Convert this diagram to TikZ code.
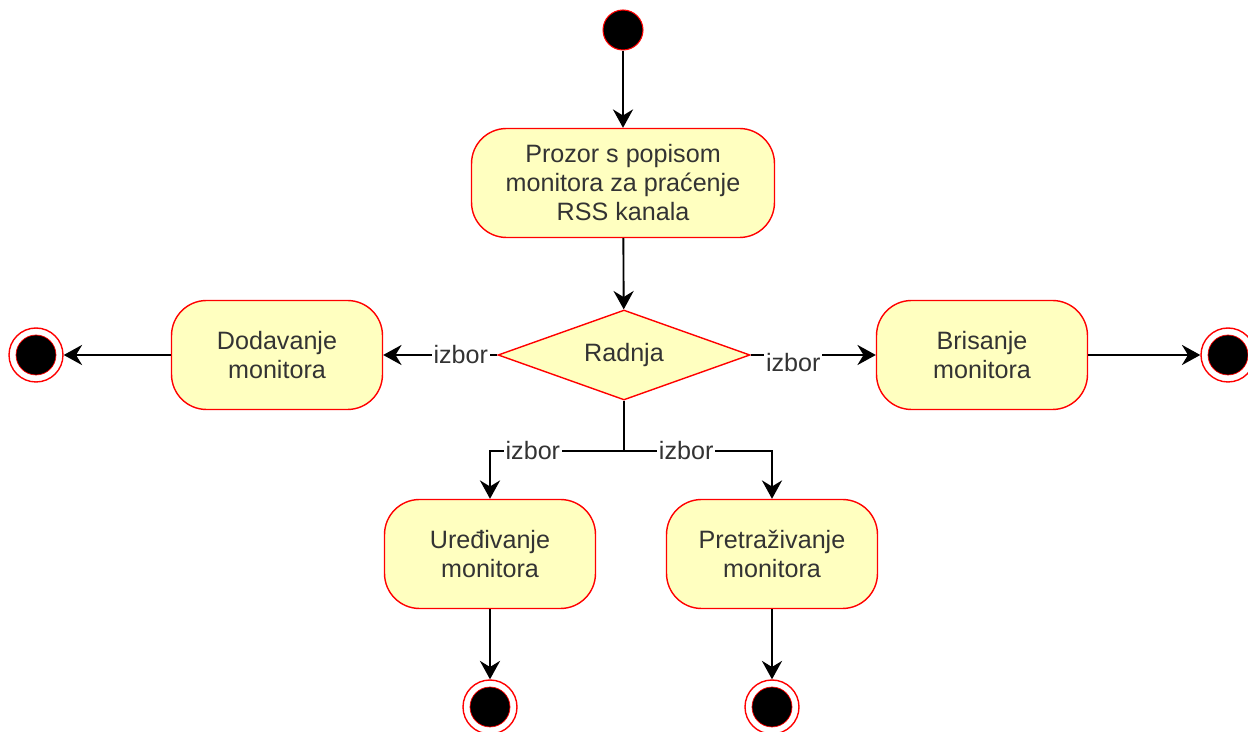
\documentclass[tikz,border=0pt]{standalone}
\usepackage{fontspec}
\setmainfont{Liberation Sans}
\usepackage{tikz}
\usetikzlibrary{arrows.meta}
\usetikzlibrary{shapes.geometric}

\definecolor{boxfill}{HTML}{FFFFC0}
\definecolor{txt}{HTML}{333333}

\tikzset{
  akcija/.style={rectangle, rounded corners=0.7cm, draw=red, fill=boxfill,
    line width=0.8pt, minimum width=4.22cm, minimum height=2.18cm,
    align=center, text=txt, font=\fontsize{14.3}{16.5}\selectfont},
  odluka/.style={diamond, aspect=2.8, draw=red, fill=boxfill, line width=0.8pt,
    minimum width=5.04cm, minimum height=1.8cm, inner sep=0pt,
    text=txt, font=\fontsize{14.3}{16.5}\selectfont},
  pocetak/.style={circle, draw=red, fill=black, line width=0.6pt,
    minimum size=0.8cm, inner sep=0pt},
  zavrsetak/.style={circle, draw=red, fill=white, line width=0.8pt,
    minimum size=1.08cm, inner sep=0pt,
    path picture={\filldraw[fill=black, draw=red, line width=0.4pt]
      (path picture bounding box.center) circle (0.4cm);}},
  izbor/.style={fill=white, text=txt, inner sep=1pt,
    font=\fontsize{14.3}{16.5}\selectfont},
  linija/.style={line width=1.05pt, black},
  strelica/.style={linija, -{Stealth[length=10.5pt, width=11.5pt, inset=3.5pt]}}
}

\begin{document}
\begin{tikzpicture}[x=0.02cm, y=-0.02cm]
  \useasboundingbox (0,0) rectangle (1248,732);

  \node[pocetak] (start) at (623,30) {};
  \node[akcija, minimum width=6.06cm] (prozor) at (623,183)
    {Prozor s popisom\\monitora za praćenje\\RSS kanala};
  \node[odluka] (radnja) at (624,355) {Radnja};

  % left side
  \node[akcija] (dodavanje) at (277,355) {Dodavanje\\monitora};
  \node[zavrsetak] (kraj1) at (36,355) {};

  % right side
  \node[akcija] (brisanje) at (982,355) {Brisanje\\monitora};
  \node[zavrsetak] (kraj2) at (1228,355) {};

  % lower side
  \coordinate (racva) at (624,451);
  \node[akcija] (uredjivanje) at (490,554) {Uređivanje\\monitora};
  \node[akcija] (pretrazivanje) at (772,554) {Pretraživanje\\monitora};
  \node[zavrsetak] (kraj3) at (490,707) {};
  \node[zavrsetak] (kraj4) at (772,707) {};

  \draw[strelica] (start) -- (prozor);
  \draw[strelica] (prozor) -- (radnja);
  \draw[strelica] (radnja) -- node[izbor, pos=0.32] (izb1) {izbor} (dodavanje);
  \draw[strelica] (dodavanje) -- (kraj1);
  \draw[strelica] (radnja) -- node[izbor, pos=0.34, yshift=-4pt] (izb2) {izbor} (brisanje);
  \draw[strelica] (brisanje) -- (kraj2);
  \draw[linija] (radnja) -- (racva);
  \draw[strelica] (racva) -| node[izbor, pos=0.34] (izb3) {izbor} (uredjivanje);
  \draw[strelica] (racva) -| node[izbor, pos=0.21] (izb4) {izbor} (pretrazivanje);
  \draw[strelica] (uredjivanje) -- (kraj3);
  \draw[strelica] (pretrazivanje) -- (kraj4);

\end{tikzpicture}
\end{document}
